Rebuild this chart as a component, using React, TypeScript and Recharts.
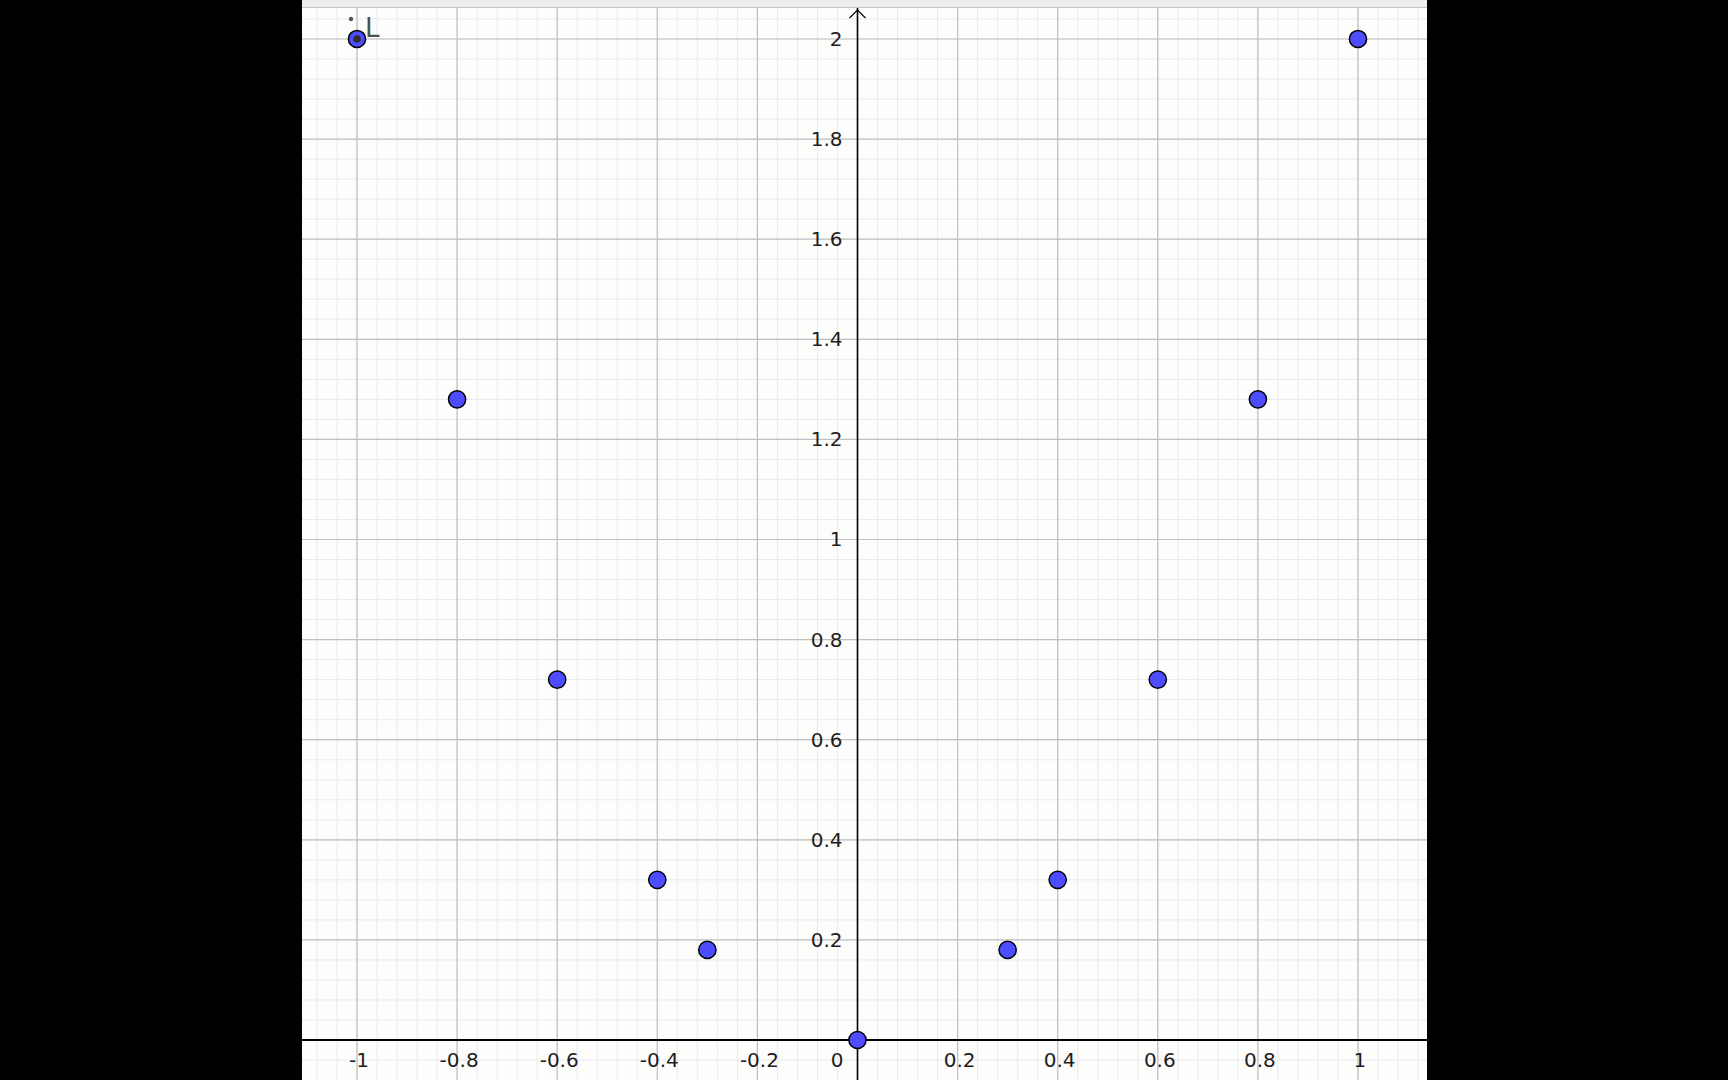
import * as React from "react";
import {
  ScatterChart,
  Scatter,
  XAxis,
  YAxis,
  ReferenceLine,
  ReferenceDot,
} from "recharts";

// points of list L
const xValues = [-1, -0.8, -0.6, -0.4, -0.3, 0, 0.3, 0.4, 0.6, 0.8, 1];
const yValues = [2, 1.28, 0.72, 0.32, 0.18, 0, 0.18, 0.32, 0.72, 1.28, 2];

const xTickLabels = [-1, -0.8, -0.6, -0.4, -0.2, 0.2, 0.4, 0.6, 0.8, 1];
const yTickLabels = [0.2, 0.4, 0.6, 0.8, 1, 1.2, 1.4, 1.6, 1.8, 2];

const X_DOMAIN: [number, number] = [-1.1099, 1.1379];
const Y_DOMAIN: [number, number] = [-0.0799, 2.0619];

const FONT = "DejaVu Sans, sans-serif";
const TEXT_COLOR = "#1e1e1e";

const steps = (from: number, to: number, step: number) => {
  const out: number[] = [];
  const n = Math.round((to - from) / step);
  for (let i = 0; i <= n; i++) out.push(Math.round((from + i * step) * 1000) / 1000);
  return out;
};

const minorX = steps(-1.08, 1.12, 0.04);
const minorY = steps(-0.08, 2.04, 0.04);
const majorX = steps(-1, 1, 0.2).filter((v) => v !== 0);
const majorY = steps(0.2, 2, 0.2);

const data = xValues.map((x, i) => ({ x, y: yValues[i], selected: i === 0 }));

const PointShape = (props: any) => {
  const { cx, cy, payload } = props;
  if (cx == null || cy == null) return null;
  return (
    <g>
      <circle cx={cx} cy={cy} r={8.6} fill="#4d4dff" stroke="#000" strokeWidth={1.5} />
      {payload && payload.selected && (
        <g>
          <circle cx={cx} cy={cy} r={3.8} fill="#2e2e2e" />
          <circle cx={cx - 6} cy={cy - 20} r={2.2} fill="#555" />
          <text
            x={cx + 8}
            y={cy - 2}
            fontFamily={FONT}
            fontSize={26}
            fill="#505050"
          >
            L
          </text>
        </g>
      )}
    </g>
  );
};

const xLabel = (value: string) => (p: any) => {
  const vb = p.viewBox || {};
  const cx = vb.x + (vb.width || 0) / 2;
  const cy = vb.y + (vb.height || 0) / 2;
  return (
    <text
      x={cx + 2}
      y={cy + 27}
      textAnchor="middle"
      fontFamily={FONT}
      fontSize={20}
      fill={TEXT_COLOR}
    >
      {value}
    </text>
  );
};

const yLabel = (value: string) => (p: any) => {
  const vb = p.viewBox || {};
  const cx = vb.x + (vb.width || 0) / 2;
  const cy = vb.y + (vb.height || 0) / 2;
  return (
    <text
      x={cx - 15}
      y={cy + 7}
      textAnchor="end"
      fontFamily={FONT}
      fontSize={20}
      fill={TEXT_COLOR}
    >
      {value}
    </text>
  );
};

const originLabel = (p: any) => {
  const vb = p.viewBox || {};
  const cx = vb.x + (vb.width || 0) / 2;
  const cy = vb.y + (vb.height || 0) / 2;
  return (
    <text x={cx - 20.5} y={cy + 27} textAnchor="middle" fontFamily={FONT} fontSize={20} fill={TEXT_COLOR}>
      0
    </text>
  );
};

const ArrowHead = (props: any) => {
  const { cx, cy } = props;
  if (cx == null || cy == null) return null;
  return (
    <path
      d={`M${cx - 8},${cy + 10} L${cx},${cy + 2} L${cx + 8},${cy + 10}`}
      fill="none"
      stroke="#000"
      strokeWidth={1.2}
    />
  );
};

const fmt = (v: number) => String(v);

export default function App() {
  return (
    <div
      style={{
        position: "absolute",
        left: 0,
        top: 0,
        width: 1728,
        height: 1080,
        background: "#000",
        overflow: "hidden",
      }}
    >
      <div
        style={{
          position: "absolute",
          left: 302,
          top: 0,
          width: 1125,
          height: 7,
          background: "#eeeeee",
          borderBottom: "1px solid #c4c4c4",
        }}
      />
      <div
        style={{
          position: "absolute",
          left: 302,
          top: 8,
          width: 1125,
          height: 1072,
          background: "#fdfdfc",
        }}
      >
        <ScatterChart
          width={1125}
          height={1072}
          margin={{ top: 0, right: 0, bottom: 0, left: 0 }}
        >
          <XAxis
            type="number"
            dataKey="x"
            domain={X_DOMAIN}
            allowDataOverflow
            hide
          />
          <YAxis
            type="number"
            dataKey="y"
            domain={Y_DOMAIN}
            allowDataOverflow
            hide
          />
          {minorX.map((v) => (
            <ReferenceLine key={`mx${v}`} x={v} stroke="#e9e9f1" strokeWidth={1} />
          ))}
          {minorY.map((v) => (
            <ReferenceLine key={`my${v}`} y={v} stroke="#e9e9f1" strokeWidth={1} />
          ))}
          {majorX.map((v) => (
            <ReferenceLine key={`Mx${v}`} x={v} stroke="#c0c0c0" strokeWidth={1.2} />
          ))}
          {majorY.map((v) => (
            <ReferenceLine key={`My${v}`} y={v} stroke="#c0c0c0" strokeWidth={1.2} />
          ))}
          <ReferenceLine x={0} stroke="#000" strokeWidth={1.6} />
          <ReferenceLine y={0} stroke="#000" strokeWidth={1.8} />
          <ReferenceDot
            x={0}
            y={Y_DOMAIN[1]}
            r={1}
            ifOverflow="visible"
            shape={ArrowHead}
          />
          {xTickLabels.map((v) => (
            <ReferenceDot
              key={`xl${v}`}
              x={v}
              y={0}
              r={0.01}
              fillOpacity={0}
              strokeOpacity={0}
              label={xLabel(fmt(v))}
            />
          ))}
          {yTickLabels.map((v) => (
            <ReferenceDot
              key={`yl${v}`}
              x={0}
              y={v}
              r={0.01}
              fillOpacity={0}
              strokeOpacity={0}
              label={yLabel(fmt(v))}
            />
          ))}
          <ReferenceDot
            x={0}
            y={0}
            r={0.01}
            fillOpacity={0}
            strokeOpacity={0}
            label={originLabel}
          />
          <Scatter
            data={data}
            shape={PointShape}
            isAnimationActive={false}
          />
        </ScatterChart>
      </div>
    </div>
  );
}
